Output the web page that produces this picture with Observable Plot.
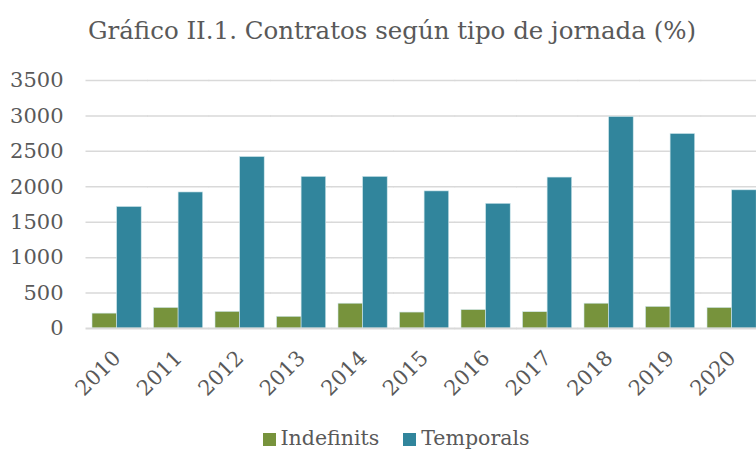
<!DOCTYPE html>
<html>
<head>
<meta charset="utf-8">
<script src="https://cdn.jsdelivr.net/npm/d3@7"></script>
<script src="https://cdn.jsdelivr.net/npm/@observablehq/plot@0.6"></script>
<style>
  html, body { margin: 0; padding: 0; background: #fff; }
  #wrap { width: 756px; height: 450px; overflow: hidden; font-family: "DejaVu Serif", serif; color: #595959; }
  #title { height: 62px; box-sizing: border-box; padding-top: 16px; text-align: center; font-size: 24.5px; line-height: 30px; padding-left: 28px; white-space: nowrap; }
  #chart { height: 328px; }
  #legend { display: flex; justify-content: center; align-items: center; gap: 24px; font-size: 20.5px; line-height: 20px; padding-top: 38px; padding-left: 36px; }
  .item { display: flex; align-items: center; gap: 5px; }
  .sw { width: 13px; height: 13px; display: inline-block; position: relative; top: 1px; }
</style>
</head>
<body>
<div id="wrap">
  <div id="title">Gráfico II.1. Contratos según tipo de jornada (%)</div>
  <div id="chart"></div>
  <div id="legend"></div>
</div>
<script>
const years = ["2010","2011","2012","2013","2014","2015","2016","2017","2018","2019","2020"];
const seriesNames = ["Indefinits","Temporals"];
const indefinits = [210, 290, 235, 165, 350, 225, 260, 230, 350, 305, 290];
const temporals = [1715, 1920, 2420, 2140, 2140, 1935, 1760, 2130, 2985, 2745, 1950];
const yTicks = [0, 500, 1000, 1500, 2000, 2500, 3000, 3500];
const colors = ["#77933C", "#31859C"];

const data = years.flatMap((y, i) => [
  {year: y, serie: seriesNames[0], value: indefinits[i]},
  {year: y, serie: seriesNames[1], value: temporals[i]}
]);

const chart = Plot.plot({
  width: 756,
  height: 328,
  marginTop: 18,
  marginBottom: 62,
  marginLeft: 86,
  marginRight: 0,
  style: {fontFamily: "DejaVu Serif, serif", fontSize: "21px", color: "#595959", background: "white", overflow: "visible"},
  fx: {domain: years, range: [92, 756.2], paddingInner: 0.2, paddingOuter: 0, round: false, label: null, axis: "bottom", tickRotate: -45, tickSize: 0, tickPadding: 26},
  x: {domain: seriesNames, axis: null, padding: 0, round: false},
  y: {domain: [0, 3500], ticks: yTicks, label: null, tickSize: 0, tickPadding: 29, tickFormat: d => String(d)},
  color: {domain: seriesNames, range: colors},
  marks: [
    Plot.ruleY(yTicks.filter(d => d > 0), {stroke: "#d9d9d9", strokeWidth: 1.5, insetLeft: -6.5, insetRight: -6.5}),
    Plot.barY(data, {fx: "year", x: "serie", y: "value", fill: "serie", stroke: "#cfe6ec", strokeWidth: 0.6}),
    Plot.ruleY([0], {stroke: "#d9d9d9", strokeWidth: 2, insetLeft: -6.5, insetRight: -6.5})
  ]
});
document.getElementById("chart").appendChild(chart);

const legend = document.getElementById("legend");
seriesNames.forEach((s, i) => {
  const it = document.createElement("div");
  it.className = "item";
  const sw = document.createElement("span");
  sw.className = "sw";
  sw.style.background = colors[i];
  const tx = document.createElement("span");
  tx.textContent = s;
  it.appendChild(sw);
  it.appendChild(tx);
  legend.appendChild(it);
});
</script>
</body>
</html>
